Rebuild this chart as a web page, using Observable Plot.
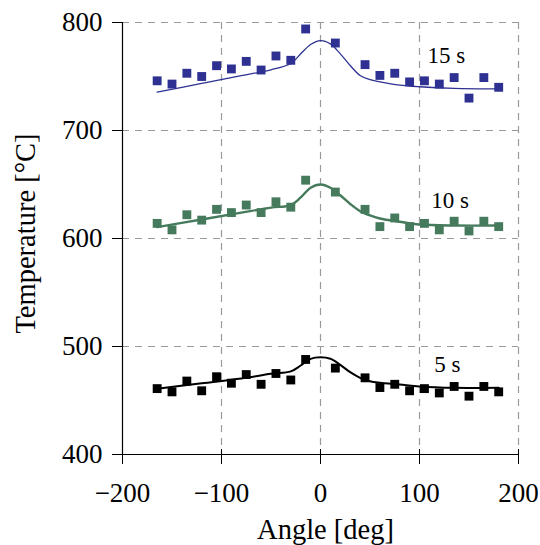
<!DOCTYPE html>
<html>
<head>
<meta charset="utf-8">
<script src="https://cdn.jsdelivr.net/npm/d3@7"></script>
<script src="https://cdn.jsdelivr.net/npm/@observablehq/plot@0.6"></script>
<style>
  html, body { margin: 0; padding: 0; background: #fff; }
  #chart svg, #chart svg text { font-family: "Liberation Serif", Tinos, "Times New Roman", Times, serif !important; }
</style>
</head>
<body>
<div id="chart"></div>
<script>
// Measured angles (deg)
const angles = [-165,-150,-135,-120,-105,-90,-75,-60,-45,-30,-15,15,45,60,75,90,105,120,135,150,165,180];
// Measured temperatures (°C)
const t15 = [746,743,753,750,760,757,764,756,769,765,794,781,761,751,753,745,746,743,749,730,749,740];
const t10 = [614,608,622,617,627,624,631,624,634,629,654,643,627,611,619,611,614,608,616,607,616,611];
const t5  = [461,458,468,459,472,466,474,465,475,469,488,480,471,462,465,459,461,457,463,454,463,458];

// Fitted curves
const fitAngles = [-165,-120,-80,-50,-30,-20,-10,0,10,20,30,40,50,60,80,100,135,180];
const fit15 = [735.5,743.6,750.8,756.2,762,771,779.6,783.3,780.2,771,760.2,751,747,745,742,740.5,739,738.5];
const fit10 = [610.5,617.6,623.9,628.6,631,638,647,650,647,640,632,625.3,621.3,618.5,615.5,613,612,612];
const fit5  = [460.8,465.9,470.4,474.7,477,482.4,488.6,490,488.6,483,476.2,471,467.9,466.5,464.8,463,461.7,461.7];

const seriesNames = ["15 s","10 s","5 s"];
const seriesColors = ["#2e3192","#467a5c","#000000"];
const lineWidths = [1.3, 2.4, 2.0];
const labelX = [127, 131, 128];
const labelY = [769, 635, 483];

const xTicks = [-200,-100,0,100,200];
const yTicks = [400,500,600,700,800];
const xGrid = [-100,0,100,200];
const yGrid = [500,600,700,800];
const xTitle = "Angle [deg]";
const yTitle = "Temperature [°C]";

const measured = [t15, t10, t5];
const fits = [fit15, fit10, fit5];

const points = [];
measured.forEach((arr, s) => arr.forEach((t, i) => points.push({series: seriesNames[s], angle: angles[i], temp: t})));
const curves = [];
fits.forEach((arr, s) => arr.forEach((t, i) => curves.push({series: seriesNames[s], angle: fitAngles[i], temp: t})));
const labels = seriesNames.map((n, i) => ({series: n, x: labelX[i], y: labelY[i]}));

const colorScale = {domain: seriesNames, range: seriesColors};

const lineMarks = seriesNames.map((n, i) =>
  Plot.line(curves.filter(d => d.series === n), {x: "angle", y: "temp", stroke: seriesColors[i], strokeWidth: lineWidths[i], curve: "catmull-rom"})
);

const chart = Plot.plot({
  width: 540,
  height: 545,
  marginLeft: 122,
  marginRight: 22,
  marginTop: 22,
  marginBottom: 91,
  style: {fontFamily: '"Liberation Serif", serif', fontSize: "26px", background: "white", color: "black"},
  x: {domain: [-200, 200]},
  y: {domain: [400, 800]},
  marks: [
    Plot.ruleX(xGrid, {stroke: "#9a9a9a", strokeDasharray: "7,6", strokeWidth: 1.2}),
    Plot.ruleY(yGrid, {stroke: "#9a9a9a", strokeDasharray: "7,6", strokeWidth: 1.2}),
    Plot.ruleX([-200], {stroke: "black", strokeWidth: 1.2}),
    Plot.ruleY([400], {stroke: "black", strokeWidth: 1.2}),
    Plot.axisX({ticks: xTicks, tickSize: 15, dy: -5, tickPadding: 18, fontSize: 27, label: null}),
    Plot.axisY({ticks: yTicks, tickSize: 10, tickPadding: 10, fontSize: 27, label: null}),
    Plot.text([xTitle], {frameAnchor: "bottom", textAnchor: "middle", lineAnchor: "bottom", dy: 84, dx: 5, fontSize: 28.5, fill: "black"}),
    Plot.text([yTitle], {frameAnchor: "left", textAnchor: "middle", lineAnchor: "bottom", rotate: -90, dx: -88, dy: -5, fontSize: 28.5, fill: "black"}),
    ...lineMarks,
    Plot.dot(points, {x: "angle", y: "temp", fill: "series", symbol: "square", r: 5, stroke: "none"}),
    Plot.text(labels, {x: "x", y: "y", text: "series", fontSize: 23, textAnchor: "middle", lineAnchor: "middle", fill: "black"})
  ],
  color: colorScale
});
document.getElementById("chart").appendChild(chart);
</script>
</body>
</html>
